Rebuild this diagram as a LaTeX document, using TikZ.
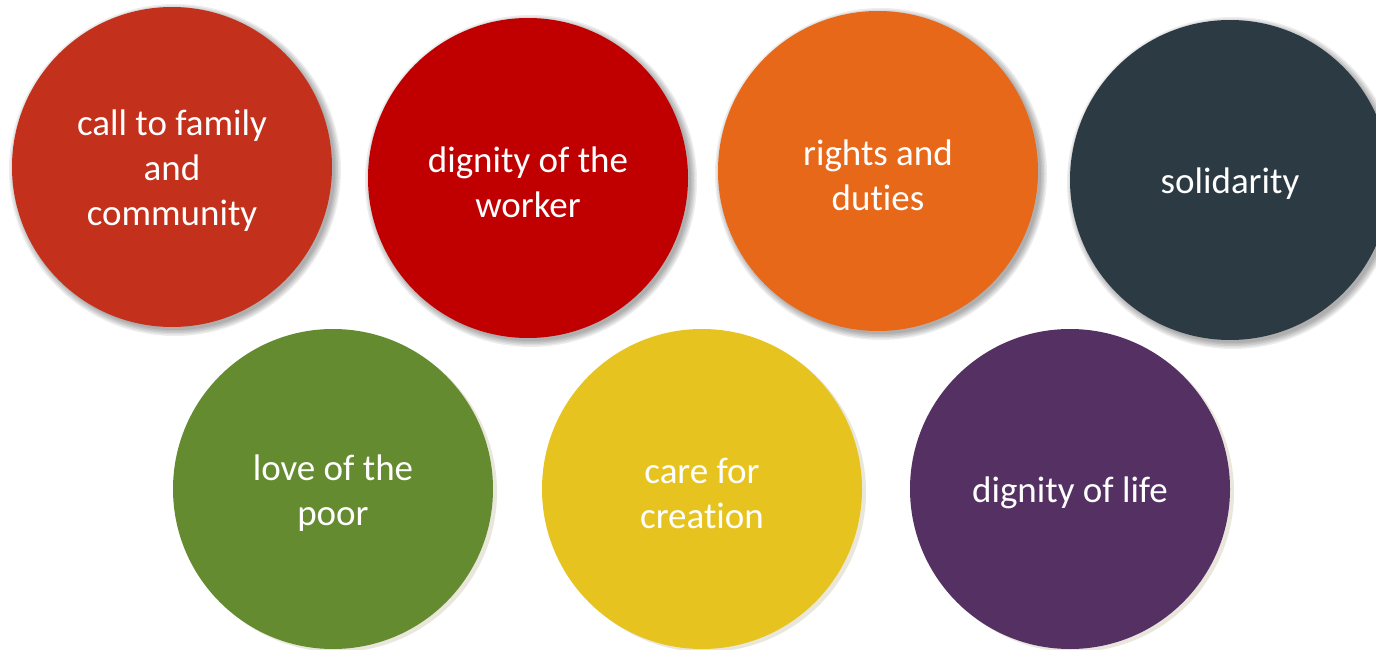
\documentclass[tikz,border=0pt]{standalone}
\usepackage{fontspec}
\setmainfont{Carlito}[Ligatures=NoCommon]
\usetikzlibrary{calc}
\definecolor{cA}{HTML}{C3301B}
\definecolor{cB}{HTML}{C00000}
\definecolor{cC}{HTML}{E8681A}
\definecolor{cD}{HTML}{2C3B43}
\definecolor{cE}{HTML}{648B30}
\definecolor{cF}{HTML}{E6C31F}
\definecolor{cG}{HTML}{553063}
\definecolor{beige}{HTML}{E9E6DC}
\begin{document}
\begin{tikzpicture}[x=1pt,y=-1pt,
  bubble/.style={circle,minimum size=320pt,inner sep=0pt},
  btext/.style={align=center,text=white,inner sep=0pt,
    font=\fontsize{37}{45}\selectfont}]
\useasboundingbox (0,0) rectangle (1376,650);
\fill[white] (0,0) rectangle (1376,650);
% centres
\coordinate (pA) at (172,167);
\coordinate (pB) at (528,178);
\coordinate (pC) at (878,171);
\coordinate (pD) at (1230,180);
\coordinate (pE) at (333,489);
\coordinate (pF) at (702,489);
\coordinate (pG) at (1070,489);
% blurred grey shadows for top row
\foreach \p in {pA,pB,pC,pD}{
  \foreach \r in {160,161.5,163,164.5,166}{
    \fill[black,opacity=0.07] ($(\p)+(3,3)$) circle (\r pt);
  }
}
% beige shadows for bottom row
\foreach \p in {pE,pF,pG}{
  \fill[beige] ($(\p)+(4,3)$) circle (160pt);
}
\node[bubble,fill=cA] (a) at (pA) {};
\node[bubble,fill=cB] (b) at (pB) {};
\node[bubble,fill=cC] (c) at (pC) {};
\node[bubble,fill=cD] (d) at (pD) {};
\node[bubble,fill=cE] (e) at (pE) {};
\node[bubble,fill=cF] (f) at (pF) {};
\node[bubble,fill=cG] (g) at (pG) {};
\node[btext] (ta) at ($(a.center)+(0,4)$) {call to family\\and\\community};
\node[btext] (tb) at ($(b.center)+(0,4)$) {dignity of the\\worker};
\node[btext] (tc) at ($(c.center)+(0,4)$) {rights and\\duties};
\node[btext] (td) at ($(d.center)+(0,4)$) {solidarity};
\node[btext] (te) at ($(e.center)+(0,4)$) {love of the\\poor};
\node[btext] (tf) at ($(f.center)+(0,4)$) {care for\\creation};
\node[btext] (tg) at ($(g.center)+(0,4)$) {dignity of life};
\end{tikzpicture}
\end{document}
